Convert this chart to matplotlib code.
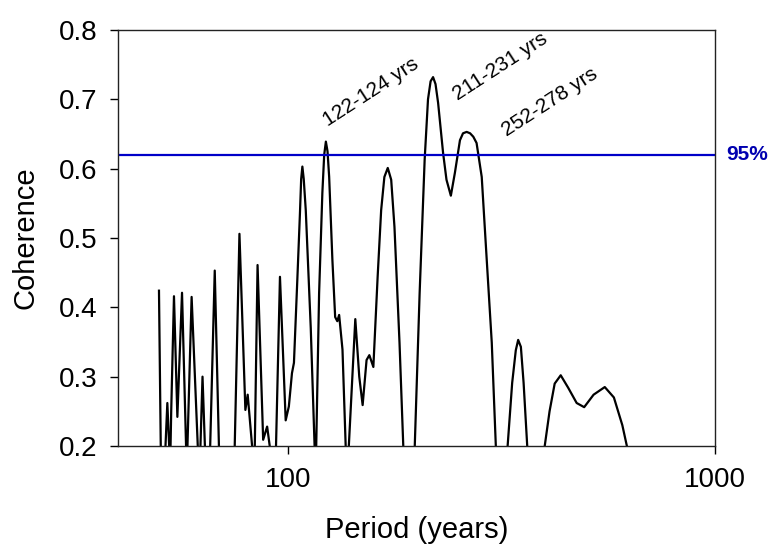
import numpy as np
import matplotlib
matplotlib.use('Agg')
import matplotlib.pyplot as plt
from matplotlib.ticker import FixedLocator, NullLocator, FormatStrFormatter

plt.rcParams['font.family'] = ['Liberation Sans', 'DejaVu Sans']

# Coherence spectrum (values below 0.2 are clipped by the axis)
period = [
    49.9, 50.4, 51.0, 51.6, 52.2, 52.8, 53.0, 53.3, 54.1, 55.1,
    56.5, 57.8, 58.0, 58.3, 59.5, 61.6, 62.0, 62.4, 63.1, 64.0,
    65.0, 65.7, 67.4, 69.0, 72.0, 75.0, 77.0, 79.5, 80.5, 82.7,
    83.2, 83.6, 84.9, 87.5, 89.4, 91.1, 92.5, 93.7, 95.8, 98.8,
    100.5, 102.2, 103.3, 105.2, 106.7, 107.4, 108.1, 108.9, 110.1, 113.1,
    115.6, 116.0, 116.4, 118.3, 120.4, 121.6, 122.7, 123.8, 124.9, 127.1,
    129.0, 130.5, 131.8, 134.2, 136.7, 137.6, 138.6, 143.8, 146.9, 149.6,
    152.8, 155.1, 158.5, 162.2, 165.3, 168.2, 171.3, 174.5, 177.6, 182.5,
    186.5, 192.0, 197.9, 203.4, 209.0, 212.8, 215.8, 218.7, 221.6, 224.7,
    230.8, 235.1, 240.7, 246.0, 252.8, 257.0, 262.1, 267.0, 271.7, 276.5,
    284.3, 292.1, 300.1, 307.2, 316.0, 326.0, 335.0, 341.6, 346.0, 351.1,
    356.3, 364.1, 380.0, 397.2, 409.8, 421.3, 435.2, 453.1, 474.3, 493.9,
    519.6, 551.9, 579.7, 606.7, 626.8, 660.0,
]
coherence = [
    0.424, 0.19, 0.12, 0.19, 0.262, 0.19, 0.17, 0.25, 0.416, 0.242,
    0.421, 0.19, 0.17, 0.22, 0.415, 0.19, 0.17, 0.20, 0.300, 0.19,
    0.10, 0.19, 0.453, 0.19, 0.05, 0.19, 0.506, 0.252, 0.274, 0.19,
    0.16, 0.19, 0.461, 0.209, 0.228, 0.19, 0.12, 0.19, 0.444, 0.237,
    0.257, 0.305, 0.320, 0.440, 0.536, 0.585, 0.603, 0.585, 0.540, 0.370,
    0.19, 0.17, 0.19, 0.420, 0.565, 0.620, 0.639, 0.625, 0.588, 0.468,
    0.386, 0.380, 0.389, 0.339, 0.19, 0.16, 0.19, 0.383, 0.300, 0.259,
    0.324, 0.331, 0.314, 0.444, 0.540, 0.588, 0.601, 0.584, 0.516, 0.349,
    0.19, 0.05, 0.19, 0.420, 0.613, 0.700, 0.726, 0.732, 0.722, 0.695,
    0.623, 0.584, 0.561, 0.594, 0.641, 0.651, 0.653, 0.651, 0.646, 0.637,
    0.588, 0.468, 0.349, 0.19, 0.10, 0.19, 0.291, 0.338, 0.353, 0.343,
    0.291, 0.19, 0.05, 0.19, 0.250, 0.290, 0.302, 0.284, 0.262, 0.256,
    0.274, 0.285, 0.270, 0.230, 0.19, 0.10,
]

sig_level = 0.62
sig_label = '95%'

annotations = ['122-124 yrs', '211-231 yrs', '252-278 yrs']
annot_x = [156.0, 314.0, 411.0]
annot_y = [0.711, 0.747, 0.696]

x_ticks = [100, 1000]
y_ticks = [0.2, 0.3, 0.4, 0.5, 0.6, 0.7, 0.8]

fig = plt.figure(figsize=(7.72, 5.5), dpi=100)
ax = fig.add_axes([0.1528, 0.1891, 0.7734, 0.7564])

ax.plot(period, coherence, color='black', lw=1.6, solid_joinstyle='round')
ax.axhline(sig_level, color='#0000C8', lw=1.6)
ax.text(1.018, sig_level, sig_label, transform=ax.get_yaxis_transform(),
        color='#0000B0', fontsize=15, fontweight='bold', va='center', ha='left')

for txt, x, y in zip(annotations, annot_x, annot_y):
    ax.text(x, y, txt, rotation=33, fontsize=15, ha='center', va='center',
            rotation_mode='anchor')

ax.set_xscale('log')
ax.set_xlim(40, 1000)
ax.set_ylim(0.2, 0.8)
ax.xaxis.set_major_locator(FixedLocator(x_ticks))
ax.xaxis.set_minor_locator(NullLocator())
ax.set_xticklabels([str(t) for t in x_ticks])
ax.set_yticks(y_ticks)
ax.yaxis.set_major_formatter(FormatStrFormatter('%.1f'))

ax.tick_params(axis='both', direction='out', length=6, width=1, labelsize=20, pad=9,
               top=False, right=False)
for s in ax.spines.values():
    s.set_linewidth(1.0)
    s.set_color('#222222')

ax.set_xlabel('Period (years)', fontsize=21, labelpad=17)
ax.set_ylabel('Coherence', fontsize=21, labelpad=14)

fig.savefig('out.png', dpi=100)
